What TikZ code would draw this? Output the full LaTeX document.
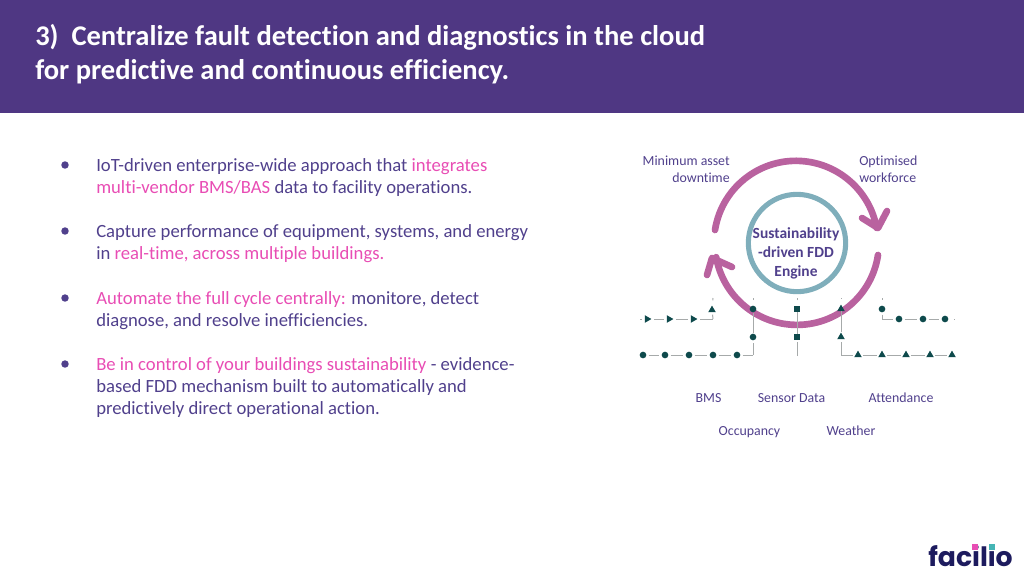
\documentclass[tikz,border=0pt]{standalone}
\usepackage{fontspec}
\usetikzlibrary{shapes.geometric}
\setmainfont{Carlito}[Ligatures=NoCommon]
\newfontfamily\logofont{Poppins}
\definecolor{fddbar}{HTML}{4F3783}
\definecolor{fddtext}{HTML}{50408C}
\definecolor{fddpink}{HTML}{E84DB4}
\definecolor{fddarc}{HTML}{B9629F}
\definecolor{fddring}{HTML}{7FAEBB}
\definecolor{fddmark}{HTML}{0E4A4C}
\definecolor{fddline}{HTML}{A6AAAA}
\definecolor{logonavy}{HTML}{1D1B5E}
\definecolor{logoteal}{HTML}{45B5B5}
\tikzset{
  titletext/.style={anchor=west,align=left,text=white,font=\fontsize{21.4}{25.5}\selectfont\bfseries,inner sep=0pt},
  bodytext/.style={anchor=west,align=left,text=fddtext,font=\fontsize{14}{16.6}\selectfont,inner sep=0pt},
  smalltext/.style={align=center,text=fddtext,font=\fontsize{10.4}{12.8}\selectfont,inner sep=0pt},
  listdot/.style={circle,fill=fddtext,minimum size=5.6pt,inner sep=0pt},
  cyclearc/.style={draw=fddarc,line width=5pt,line cap=round,line join=round},
  trackline/.style={draw=fddline,line width=0.75pt,shorten >=1.6pt,shorten <=1.6pt},
  dotmark/.style={circle,fill=fddmark,minimum size=5pt,inner sep=0pt},
  squaremark/.style={rectangle,fill=fddmark,minimum size=4.6pt,inner sep=0pt},
  upmark/.style={regular polygon,regular polygon sides=3,fill=fddmark,minimum size=6.6pt,inner sep=0pt},
  rightmark/.style={upmark,shape border rotate=-90},
  logodot/.style={rectangle,minimum size=4pt,inner sep=0pt},
}
\begin{document}
\begin{tikzpicture}[x=0.75pt,y=-0.75pt]
  \useasboundingbox (0,0) rectangle (1024,576);
  \fill[fddbar] (0,0) rectangle (1024,113);
  \node[titletext] (title) at (35,54) {3)\ \ Centralize fault detection and diagnostics in the cloud\\for predictive and continuous efficiency.};
  % list
  \node[listdot] (dot1) at (65,165) {};
  \node[listdot] (dot2) at (65,231) {};
  \node[listdot] (dot3) at (65,298) {};
  \node[listdot] (dot4) at (65,364) {};
  \node[bodytext] (item1) at (96,177.5) {IoT-driven enterprise-wide approach that \textcolor{fddpink}{integrates}\\\textcolor{fddpink}{multi-vendor BMS/BAS} data to facility operations.};
  \node[bodytext] (item2) at (96,244) {Capture performance of equipment, systems, and energy\\in \textcolor{fddpink}{real-time, across multiple buildings.}};
  \node[bodytext] (item3) at (96,310.5) {\textcolor{fddpink}{Automate the full cycle centrally:} monitore, detect\\diagnose, and resolve inefficiencies.};
  \node[bodytext] (item4) at (96,387.5) {\textcolor{fddpink}{Be in control of your buildings sustainability} - evidence-\\based FDD mechanism built to automatically and\\predictively direct operational action.};
  % cycle
  \node[circle,draw=fddring,line width=3.8pt,minimum size=73pt,inner sep=0pt] (ring) at (797,243) {};
  \node[align=center,text=fddtext,font=\fontsize{11.6}{14.2}\selectfont\bfseries,inner sep=0pt] (engine) at (796,253.5) {Sustainability\\-driven FDD\\Engine};
  \coordinate (upstart) at (715,230);
  \coordinate (uptip) at (878,228);
  \coordinate (uparm1) at (862,218);
  \coordinate (uparm2) at (887,211);
  \coordinate (lowstart) at (878,255);
  \coordinate (lowtip) at (712,258);
  \coordinate (lowarm1) at (732,267);
  \coordinate (lowarm2) at (707,275);
  \draw[cyclearc] (upstart) arc[start angle=171,end angle=10.5,radius=61.5pt];
  \draw[cyclearc] (uparm1) -- (uptip) -- (uparm2);
  \draw[cyclearc] (lowstart) arc[start angle=-8.5,end angle=-170,radius=61.5pt];
  \draw[cyclearc] (lowarm1) -- (lowtip) -- (lowarm2);
  \node[smalltext,align=right,anchor=east] (asset) at (730,169.3) {Minimum asset\\downtime};
  \node[smalltext,align=left,anchor=west] (force) at (859,169.3) {Optimised\\workforce};
  % BMS track
  \coordinate (a0) at (640,319);
  \node[rightmark] (a1) at (647,319) {};
  \node[rightmark] (a2) at (669,319) {};
  \node[rightmark] (a3) at (693,319) {};
  \coordinate (a4) at (713,319);
  \node[upmark] (a5) at (712,310) {};
  \coordinate (a6) at (713,298);
  \draw[trackline,shorten <=0pt] (a0) -- (a1);
  \draw[trackline] (a1) -- (a2);
  \draw[trackline] (a2) -- (a3);
  \draw[trackline,shorten >=0pt] (a3) -- (a4);
  \draw[trackline,shorten <=0pt] (a4) -- (a5);
  \draw[trackline,shorten <=4pt,shorten >=0pt] (a5) -- (a6);
  % occupancy track
  \node[dotmark] (b1) at (643,355) {};
  \node[dotmark] (b2) at (665,355) {};
  \node[dotmark] (b3) at (689,355) {};
  \node[dotmark] (b4) at (713,355) {};
  \node[dotmark] (b5) at (737,355) {};
  \coordinate (b6) at (753,355);
  \node[dotmark] (b7) at (753,337) {};
  \node[dotmark] (b8) at (753,309) {};
  \coordinate (b9) at (753,298);
  \draw[trackline] (b1) -- (b2);
  \draw[trackline] (b2) -- (b3);
  \draw[trackline] (b3) -- (b4);
  \draw[trackline] (b4) -- (b5);
  \draw[trackline,shorten >=0pt] (b5) -- (b6);
  \draw[trackline,shorten <=0pt] (b6) -- (b7);
  \draw[trackline,shorten <=0pt,shorten >=0pt] (b7) -- (b8);
  \draw[trackline,shorten <=4pt,shorten >=0pt] (b8) -- (b9);
  % sensor track
  \node[squaremark] (c1) at (797,337) {};
  \node[squaremark] (c2) at (797,309) {};
  \coordinate (c0) at (797,356);
  \coordinate (c3) at (797,298);
  \draw[trackline,shorten <=0pt] (c0) -- (c1);
  \draw[trackline,shorten <=0pt,shorten >=0pt] (c1) -- (c2);
  \draw[trackline,shorten <=4pt,shorten >=0pt] (c2) -- (c3);
  % weather track
  \node[upmark] (d1) at (841,337) {};
  \node[upmark] (d2) at (841,309) {};
  \coordinate (d0) at (841,355);
  \coordinate (d3) at (841,298);
  \node[upmark] (d4) at (858,355) {};
  \node[upmark] (d5) at (882,355) {};
  \node[upmark] (d6) at (906,355) {};
  \node[upmark] (d7) at (930,355) {};
  \node[upmark] (d8) at (952,355) {};
  \draw[trackline,shorten <=0pt] (d0) -- (d1);
  \draw[trackline,shorten <=0pt,shorten >=0pt] (d1) -- (d2);
  \draw[trackline,shorten <=4pt,shorten >=0pt] (d2) -- (d3);
  \draw[trackline,shorten <=0pt] (d0) -- (d4);
  \draw[trackline] (d4) -- (d5);
  \draw[trackline] (d5) -- (d6);
  \draw[trackline] (d6) -- (d7);
  \draw[trackline] (d7) -- (d8);
  % attendance track
  \node[dotmark] (e1) at (882,309) {};
  \coordinate (e0) at (882,298);
  \coordinate (e2) at (882,319);
  \node[dotmark] (e3) at (899,319) {};
  \node[dotmark] (e4) at (923,319) {};
  \node[dotmark] (e5) at (945,319) {};
  \coordinate (e6) at (955,319);
  \draw[trackline,shorten >=4pt,shorten <=0pt] (e0) -- (e1);
  \draw[trackline,shorten >=0pt] (e1) -- (e2);
  \draw[trackline,shorten <=0pt] (e2) -- (e3);
  \draw[trackline] (e3) -- (e4);
  \draw[trackline] (e4) -- (e5);
  \draw[trackline,shorten >=0pt,shorten <=4pt] (e5) -- (e6);
  % source labels
  \node[smalltext,anchor=base] (bms) at (708.5,402.5) {BMS};
  \node[smalltext,anchor=base] (sensor) at (791.5,402.5) {Sensor Data};
  \node[smalltext,anchor=base] (attend) at (901,402.5) {Attendance};
  \node[smalltext,anchor=base] (occup) at (749.5,435.5) {Occupancy};
  \node[smalltext,anchor=base] (weather) at (851,435.5) {Weather};
  % logo
  \node[text=logonavy,font=\logofont\fontsize{20}{24}\selectfont\bfseries,inner sep=0pt] (logo) at (970.5,556) {facilio};
  \node[logodot,fill=fddpink] (idot1) at (975,547) {};
  \node[logodot,fill=logoteal] (idot2) at (992,547) {};
\end{tikzpicture}
\end{document}
